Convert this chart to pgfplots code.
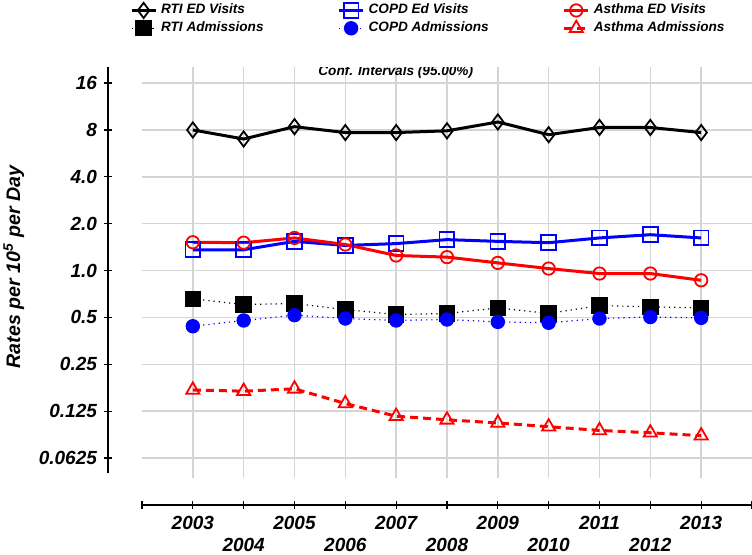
\documentclass[border=0pt]{standalone}
\usepackage{fontspec}
\setmainfont{Liberation Sans}
\usepackage{pgfplots}
\pgfplotsset{compat=1.18}
\definecolor{gridc}{RGB}{212,212,212}
\definecolor{cblue}{RGB}{0,0,255}
\definecolor{cred}{RGB}{255,0,0}
\newcommand{\bi}[1]{\fontsize{#1}{#1}\selectfont\bfseries\itshape}

\begin{document}
\begin{tikzpicture}
\begin{axis}[
    scale only axis, width=305pt, height=219pt,
    xmin=2002, xmax=2014,
    ymode=log, log basis y=2, ymin=0.0312, ymax=20.3,
    axis x line*=bottom, axis y line*=left,
    axis y line shift=17pt,
    axis line style={-, line width=0.8pt},
    y axis line style={shorten <=16pt},
    tick align=center, major tick length=4pt,
    tick style={black, line width=0.6pt},
    xtick={2002,2003,2005,2007,2009,2011,2013,2014},
    xticklabels={,2003,2005,2007,2009,2011,2013,},
    extra x ticks={2004,2006,2008,2010,2012},
    extra x tick labels={2004,2006,2008,2010,2012},
    extra x tick style={xticklabel style={yshift=-11pt}},
    ytick={0.0625,0.125,0.25,0.5,1,2,4,8,16},
    yticklabels={0.0625,0.125,0.25,0.5,1.0,2.0,4.0,8,16},
    tick label style={font=\bi{9.5}},
    ymajorgrids, grid style={gridc, line width=0.7pt},
    ylabel={Rates per 10\textsuperscript{5} per Day},
    ylabel style={at={(axis description cs:-0.21,0.543)}, anchor=center, font=\bi{9.8}},
    legend columns=3,
    legend style={draw=none, fill=none, at={(rel axis cs:-0.03,1.163)}, anchor=north west,
        font=\bi{6.8}, row sep=-1.5pt, /tikz/every even column/.append style={column sep=35pt}},
    legend cell align=left,
    legend image code/.code={\draw[mark repeat=2,mark phase=2] plot coordinates {(0pt,0pt) (6pt,0pt) (12pt,0pt)};},
]
\pgfplotsinvokeforeach{2003,...,2013}{\draw[gridc, line width=0.7pt] (axis cs:#1,0.0465) -- (axis cs:#1,20.3);}

\addplot[black, line width=1.5pt, mark=diamond, mark size=3.8pt, mark options={fill=white, line width=0.9pt}]
  coordinates {(2003,8.0) (2004,7.0) (2005,8.4) (2006,7.7) (2007,7.7) (2008,7.9) (2009,9.0) (2010,7.46) (2011,8.3) (2012,8.3) (2013,7.7)};
\addlegendentry{RTI ED Visits}
\addplot[cblue, line width=1.5pt, mark=square, mark size=3.7pt, mark options={fill=white, line width=0.9pt}]
  coordinates {(2003,1.36) (2004,1.36) (2005,1.54) (2006,1.45) (2007,1.49) (2008,1.58) (2009,1.54) (2010,1.51) (2011,1.62) (2012,1.70) (2013,1.62)};
\addlegendentry{COPD Ed Visits}
\addplot[cred, line width=1.5pt, mark=o, mark size=3.1pt, mark options={fill=white, line width=0.9pt}]
  coordinates {(2003,1.52) (2004,1.51) (2005,1.62) (2006,1.47) (2007,1.25) (2008,1.22) (2009,1.12) (2010,1.03) (2011,0.957) (2012,0.957) (2013,0.866)};
\addlegendentry{Asthma ED Visits}
\addplot[black, line width=0.6pt, dotted, mark=square*, mark size=3.8pt, mark options={solid}]
  coordinates {(2003,0.658) (2004,0.605) (2005,0.614) (2006,0.562) (2007,0.522) (2008,0.53) (2009,0.576) (2010,0.53) (2011,0.596) (2012,0.585) (2013,0.576)};
\addlegendentry{RTI Admissions}
\addplot[cblue, line width=0.6pt, dotted, mark=*, mark size=3.3pt, mark options={solid}]
  coordinates {(2003,0.439) (2004,0.478) (2005,0.517) (2006,0.492) (2007,0.478) (2008,0.485) (2009,0.468) (2010,0.462) (2011,0.492) (2012,0.503) (2013,0.497)};
\addlegendentry{COPD Admissions}
\addplot[cred, line width=1.5pt, dash pattern=on 4pt off 2.5pt, mark=triangle, mark size=3.8pt, mark options={solid, fill=white, line width=0.9pt}]
  coordinates {(2003,0.171) (2004,0.168) (2005,0.174) (2006,0.140) (2007,0.116) (2008,0.110) (2009,0.105) (2010,0.0993) (2011,0.094) (2012,0.0908) (2013,0.087)};
\addlegendentry{Asthma Admissions}

\node[font=\bi{6.8}] at (rel axis cs:0.416,0.989) {Conf. Intervals (95.00\%)};
\end{axis}
\pgfresetboundingbox
\path[use as bounding box] (-71pt,-24.5pt) rectangle (305pt,252.5pt);
\end{tikzpicture}
\end{document}
